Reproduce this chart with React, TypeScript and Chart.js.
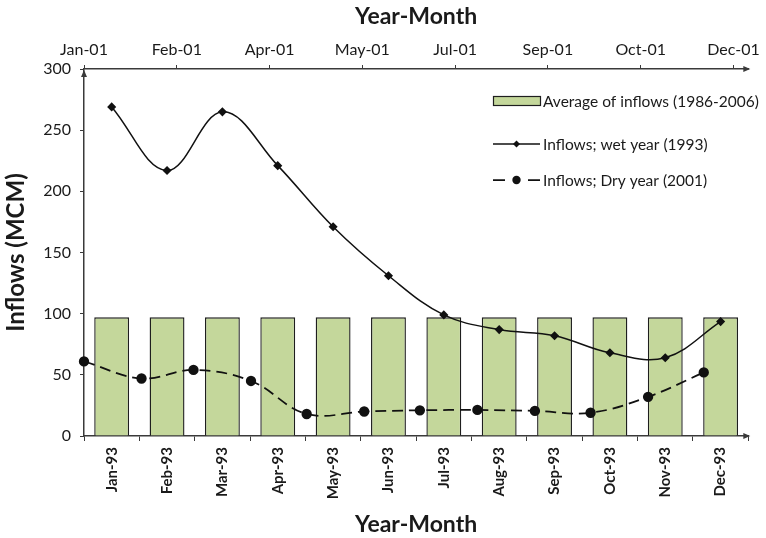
import React, { useEffect, useRef } from 'react';
import { Chart, registerables } from 'chart.js';

Chart.register(...registerables);

const FONT = 'Lato, "Liberation Sans", sans-serif';

// ---- data ----
const categories = ['Jan-93', 'Feb-93', 'Mar-93', 'Apr-93', 'May-93', 'Jun-93', 'Jul-93', 'Aug-93', 'Sep-93', 'Oct-93', 'Nov-93', 'Dec-93'];
const averageInflows = [97, 97, 97, 97, 97, 97, 97, 97, 97, 97, 97, 97];
const wetYear1993 = [269, 217, 265, 221, 171, 131, 99, 87, 82, 68, 64, 93.5];
const dryDates = ['2001-01-01', '2001-02-01', '2001-03-01', '2001-04-01', '2001-05-01', '2001-06-01', '2001-07-01', '2001-08-01', '2001-09-01', '2001-10-01', '2001-11-01', '2001-12-01'];
const dryYear2001 = [61, 47, 54, 45, 18, 20, 21, 21.3, 20.5, 19, 32, 52];
const topAxisStart = '2001-01-01';
const topAxisEnd = '2001-12-25';
const topAxisStepDays = 50;
const yTicksMax = 300;
const yTicksStep = 50;
const seriesLabels = ['Average of inflows (1986-2006)', 'Inflows; wet year (1993)', 'Inflows; Dry year (2001)'];

const DAY = 86400000;
const MONTHS = ['Jan', 'Feb', 'Mar', 'Apr', 'May', 'Jun', 'Jul', 'Aug', 'Sep', 'Oct', 'Nov', 'Dec'];
const startMs = Date.parse(topAxisStart + 'T00:00:00Z');
const dayOffset = (iso: string) => (Date.parse(iso + 'T00:00:00Z') - startMs) / DAY;
const fmtTop = (v: number) => {
  const d = new Date(startMs + v * DAY);
  return `${MONTHS[d.getUTCMonth()]}-${String(d.getUTCFullYear()).slice(2)}`;
};

const AXIS_COLOR = '#3a3a3a';
const TEXT_COLOR = '#1a1a1a';
const BAR_FILL = '#c4d79b';
const BAR_BORDER = '#1e1e1e';

const legendPlugin = {
  id: 'customLegend',
  afterDraw(chart: any) {
    const ctx = chart.ctx;
    const x0 = 493, x1 = 540, tx = 543;
    const ys = [101, 144, 180];
    ctx.save();
    // bar item
    ctx.fillStyle = BAR_FILL;
    ctx.fillRect(x0, ys[0] - 4.5, x1 - x0, 9);
    ctx.strokeStyle = BAR_BORDER;
    ctx.lineWidth = 1.2;
    ctx.strokeRect(x0 + 0.5, ys[0] - 4.5, x1 - x0, 9);
    // wet item
    ctx.strokeStyle = '#111';
    ctx.lineWidth = 1.5;
    ctx.beginPath();
    ctx.moveTo(x0, ys[1]);
    ctx.lineTo(x1, ys[1]);
    ctx.stroke();
    ctx.fillStyle = '#111';
    ctx.beginPath();
    const mx = (x0 + x1) / 2;
    ctx.moveTo(mx, ys[1] - 3.5);
    ctx.lineTo(mx + 3.5, ys[1]);
    ctx.lineTo(mx, ys[1] + 3.5);
    ctx.lineTo(mx - 3.5, ys[1]);
    ctx.closePath();
    ctx.fill();
    // dry item
    ctx.lineWidth = 1.75;
    ctx.beginPath();
    ctx.moveTo(x0, ys[2]);
    ctx.lineTo(x0 + 12, ys[2]);
    ctx.moveTo(x1 - 12, ys[2]);
    ctx.lineTo(x1, ys[2]);
    ctx.stroke();
    ctx.beginPath();
    ctx.arc(mx, ys[2], 4.2, 0, Math.PI * 2);
    ctx.fill();
    // texts
    ctx.font = `15.5px ${FONT}`;
    ctx.fillStyle = TEXT_COLOR;
    ctx.textBaseline = 'middle';
    ctx.textAlign = 'left';
    chart.data.datasets.forEach((ds: any, i: number) => {
      ctx.fillText(ds.label, tx, ys[i] + 1);
    });
    ctx.restore();
  },
};

const arrowPlugin = {
  id: 'axisArrows',
  afterDraw(chart: any) {
    const { left, right, top, bottom } = chart.chartArea;
    const ctx = chart.ctx;
    ctx.save();
    ctx.fillStyle = AXIS_COLOR;
    // y axis arrow (up)
    ctx.beginPath();
    ctx.moveTo(left, top + 1);
    ctx.lineTo(left + 3, top + 8);
    ctx.lineTo(left - 3, top + 8);
    ctx.closePath();
    ctx.fill();
    // bottom axis arrow (right)
    ctx.beginPath();
    ctx.moveTo(right + 2, bottom);
    ctx.lineTo(right - 5, bottom - 3);
    ctx.lineTo(right - 5, bottom + 3);
    ctx.closePath();
    ctx.fill();
    // top axis arrow (right)
    ctx.beginPath();
    ctx.moveTo(right + 2, top);
    ctx.lineTo(right - 5, top - 3);
    ctx.lineTo(right - 5, top + 3);
    ctx.closePath();
    ctx.fill();
    ctx.restore();
  },
};

export default function App() {
  const ref = useRef<HTMLCanvasElement | null>(null);

  useEffect(() => {
    if (!ref.current) return;
    const chart = new Chart(ref.current, {
      type: 'bar',
      data: {
        labels: categories,
        datasets: [
          {
            type: 'bar',
            label: seriesLabels[0],
            data: averageInflows,
            backgroundColor: BAR_FILL,
            borderColor: BAR_BORDER,
            borderWidth: 1.4,
            barPercentage: 0.63,
            categoryPercentage: 1,
            grouped: false,
            xAxisID: 'x',
            yAxisID: 'y',
            order: 10,
          },
          {
            type: 'line',
            label: seriesLabels[1],
            data: wetYear1993,
            borderColor: '#111',
            backgroundColor: '#111',
            borderWidth: 1.5,
            pointStyle: 'rectRot',
            pointRadius: 3.5,
            tension: 0.38,
            fill: false,
            clip: false,
            xAxisID: 'x',
            yAxisID: 'y',
            order: 1,
          },
          {
            type: 'line',
            label: seriesLabels[2],
            data: dryDates.map((d, i) => ({ x: dayOffset(d), y: dryYear2001[i] })),
            borderColor: '#111',
            backgroundColor: '#111',
            borderWidth: 1.75,
            borderDash: [11, 6],
            pointStyle: 'circle',
            pointRadius: 4.3,
            tension: 0.38,
            fill: false,
            clip: false,
            xAxisID: 'x2',
            yAxisID: 'y',
            order: 2,
          } as any,
        ],
      },
      options: {
        responsive: false,
        devicePixelRatio: 1,
        animation: false,
        layout: { padding: { left: 0, right: 13, top: 0, bottom: 0 } },
        plugins: {
          legend: { display: false },
          tooltip: { enabled: false },
        },
        scales: {
          x: {
            type: 'category',
            position: 'bottom',
            offset: true,
            grid: { drawOnChartArea: false, offset: true, tickLength: 5, color: AXIS_COLOR, lineWidth: 1 },
            border: { color: AXIS_COLOR, width: 1.5 },
            ticks: {
              autoSkip: false,
              minRotation: 90,
              maxRotation: 90,
              padding: 6,
              color: TEXT_COLOR,
              font: { family: FONT, size: 15, weight: 'bold' },
            },
            title: {
              display: true,
              text: 'Year-Month',
              color: TEXT_COLOR,
              font: { family: FONT, size: 23, weight: 'bold' },
              padding: { top: 0, bottom: 0 },
            },
            afterFit: (s: any) => { s.height = 102; },
          },
          x2: {
            type: 'linear',
            position: 'top',
            offset: false,
            min: 0,
            max: dayOffset(topAxisEnd),
            grid: { drawOnChartArea: false, offset: false, tickLength: 4, color: AXIS_COLOR, lineWidth: 1 },
            border: { color: AXIS_COLOR, width: 1.5 },
            ticks: {
              stepSize: topAxisStepDays,
              includeBounds: false,
              autoSkip: false,
              maxRotation: 0,
              padding: 6,
              color: TEXT_COLOR,
              font: { family: FONT, size: 16 },
              callback: (v: any) => fmtTop(Number(v)),
            },
            title: {
              display: true,
              text: 'Year-Month',
              color: TEXT_COLOR,
              font: { family: FONT, size: 23, weight: 'bold' },
              padding: { top: 3, bottom: 0 },
            },
            afterFit: (s: any) => { s.height = 69; },
          },
          y: {
            type: 'linear',
            position: 'left',
            min: 0,
            max: yTicksMax,
            grid: { drawOnChartArea: false, tickLength: 4, color: AXIS_COLOR, lineWidth: 1 },
            border: { color: AXIS_COLOR, width: 1.5 },
            ticks: {
              stepSize: yTicksStep,
              padding: 9,
              color: TEXT_COLOR,
              font: { family: FONT, size: 16 },
            },
            title: {
              display: true,
              text: 'Inflows (MCM)',
              color: TEXT_COLOR,
              font: { family: FONT, size: 24, weight: 'bold' },
              padding: { top: 2, bottom: 0 },
            },
            afterFit: (s: any) => { s.width = 84; },
          },
        },
      } as any,
      plugins: [legendPlugin, arrowPlugin],
    });
    return () => chart.destroy();
  }, []);

  return (
    <div style={{ position: 'fixed', left: 0, top: 0, width: 766, height: 538, background: '#fff' }}>
      <canvas ref={ref} width={766} height={538} style={{ display: 'block' }} />
    </div>
  );
}
